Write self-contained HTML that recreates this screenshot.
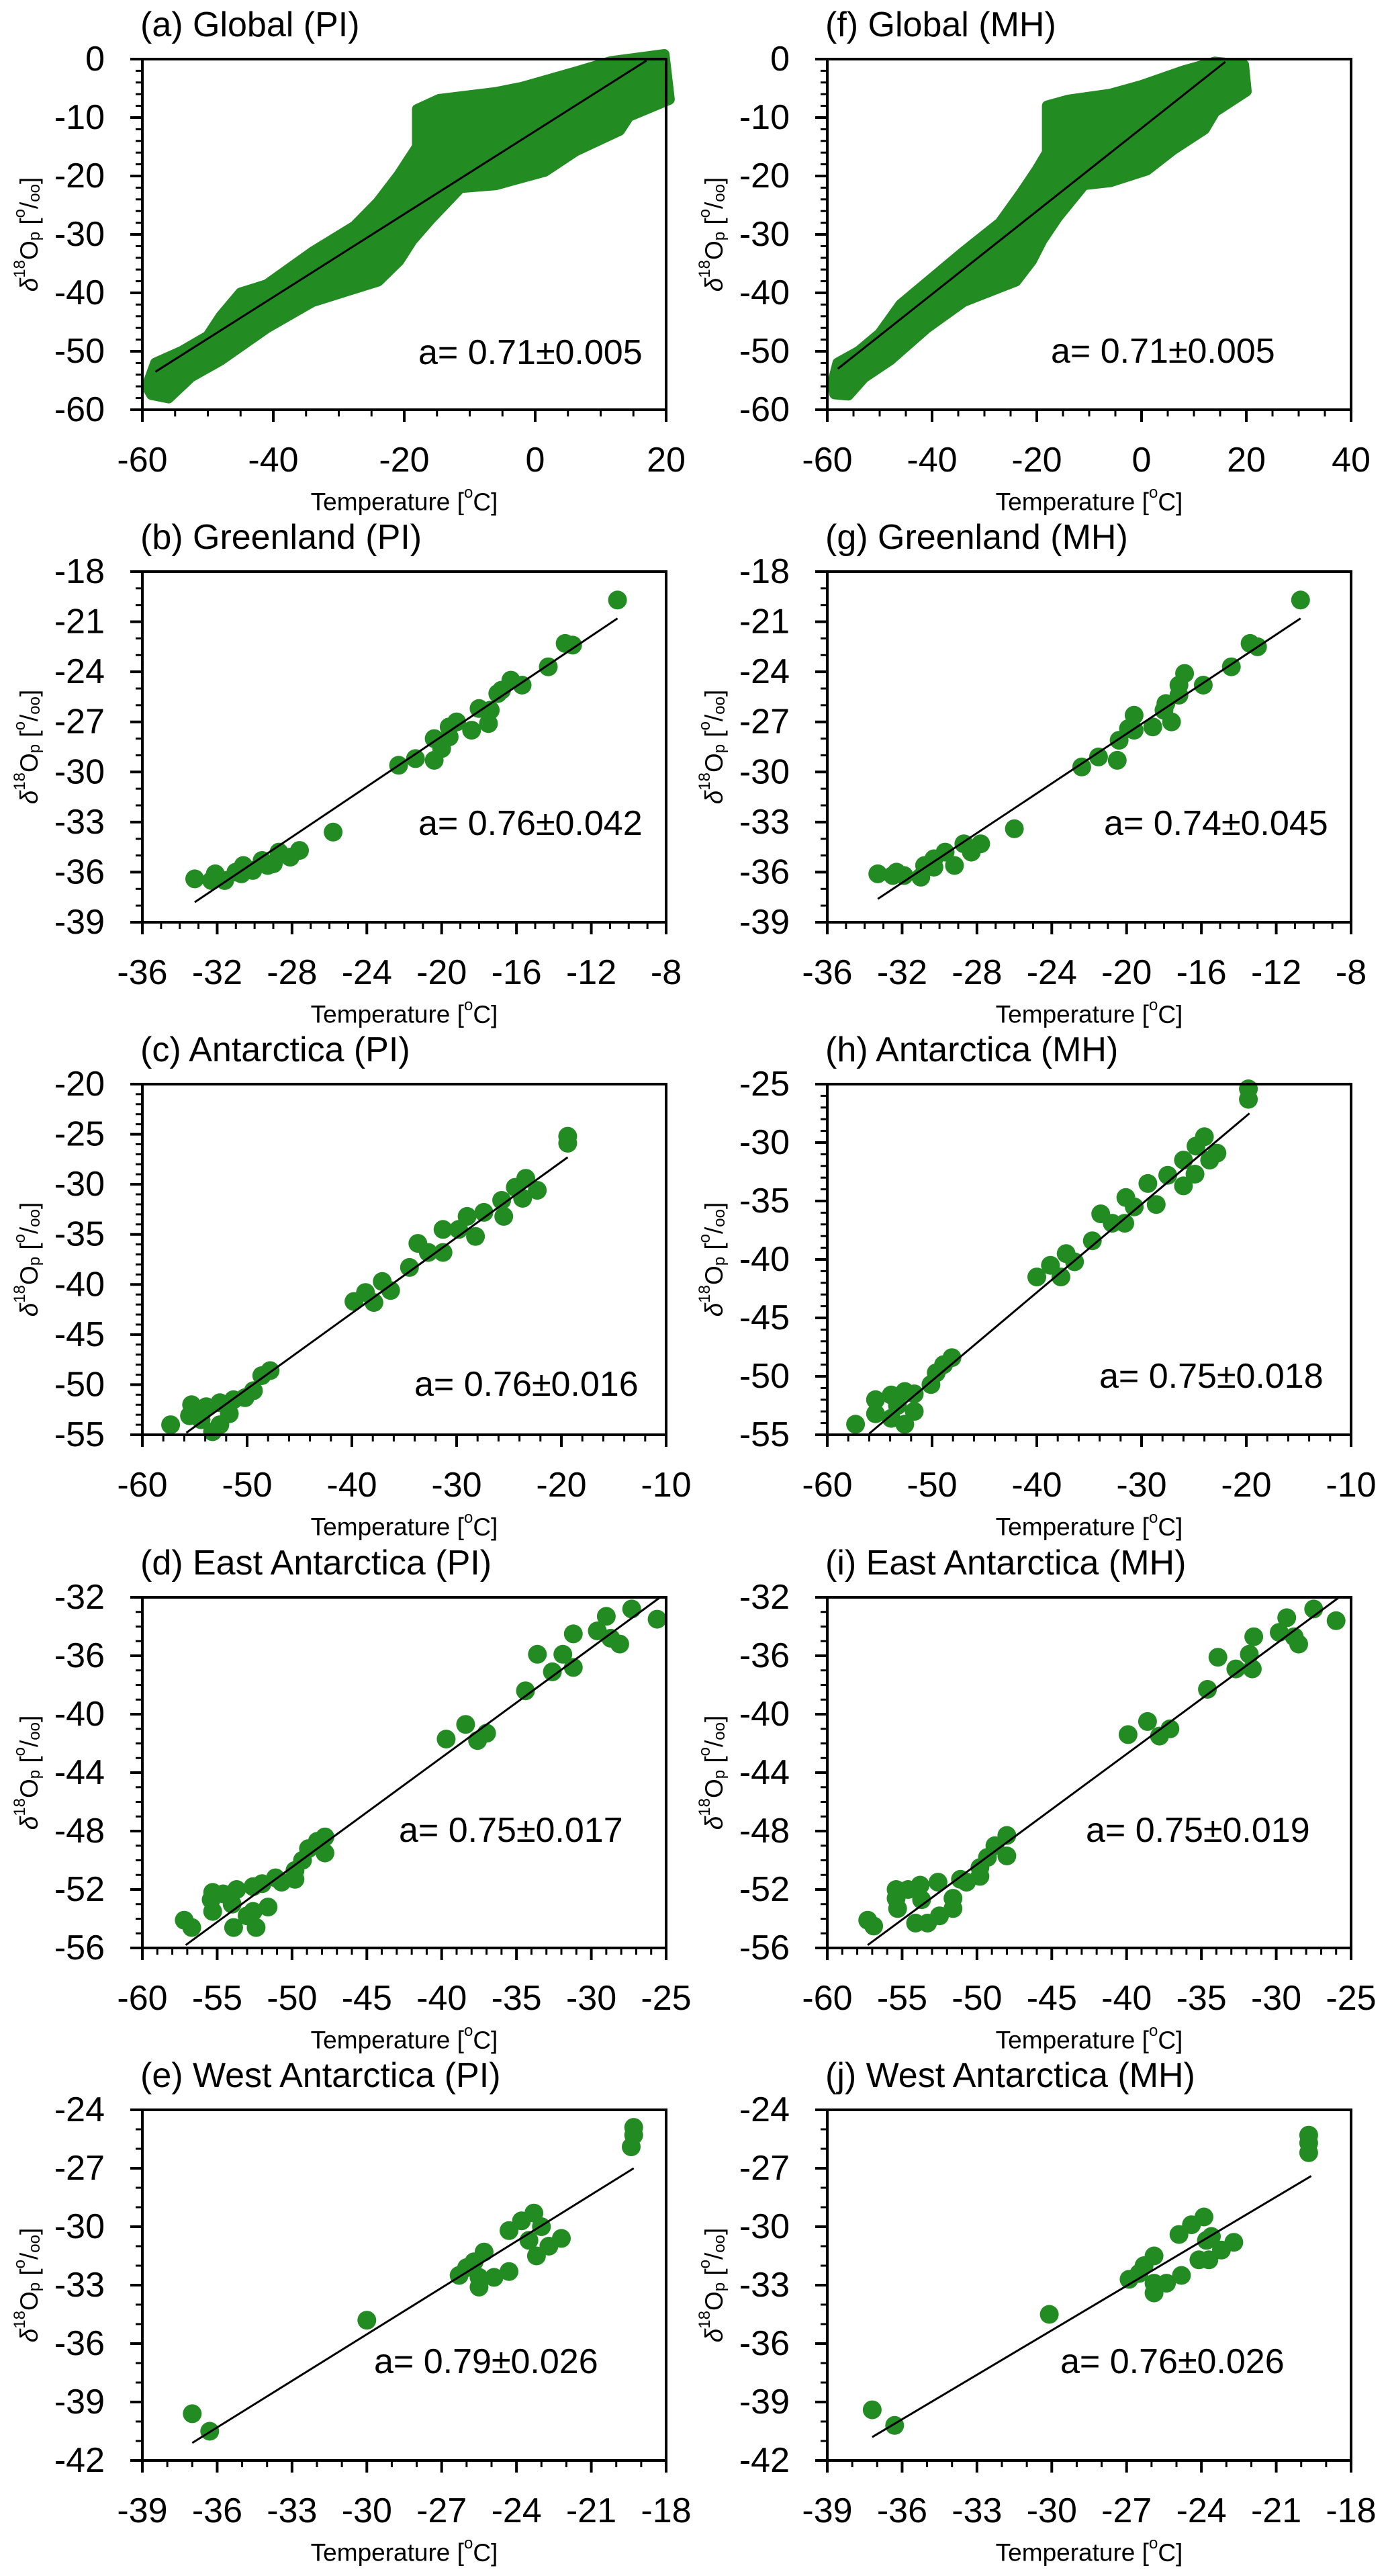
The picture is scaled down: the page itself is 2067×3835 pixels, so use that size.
<!DOCTYPE html>
<html><head><meta charset="utf-8"><style>
html,body{margin:0;padding:0;background:#fff;}
svg{display:block;font-family:"Liberation Sans",Arial,sans-serif;}
</style></head><body>
<svg id="fig" width="2067" height="3835" viewBox="0 0 2067 3835" xmlns="http://www.w3.org/2000/svg"></svg>
<script>
// ---------- data ----------
const globalPiUpperT=[-59.3,-58,-54,-50,-48,-45,-41,-34,-27.6,-24,-20.8,-18,-18,-14.7,-6,-2,6.2,11.6,19.7];
const globalPiUpperY=[-56,-52,-50,-47.4,-44,-40,-38.6,-33,-28.6,-24.5,-19.8,-15,-8.6,-6.9,-5.7,-4.8,-2.2,-0.4,0.8];
const globalPiLowerT=[20.5,14.3,12.9,6.2,1.5,-6,-11.4,-16,-18.8,-20.8,-24,-34,-41,-48,-52.6,-56,-58.6];
const globalPiLowerY=[-6.9,-9.8,-12.2,-15.7,-19.2,-21.5,-22,-27.4,-31,-34.5,-38,-41.5,-46,-51.5,-54.4,-58,-57.4];
const globalMhUpperT=[-59,-58,-54,-50,-46,-42,-34,-27,-23,-20,-18,-18,-14,-6,0,8,14,19.5];
const globalMhUpperY=[-55.5,-52,-50,-47,-42,-39,-33,-28,-23,-19,-16,-8,-7,-6,-4.5,-2,-0.5,-1];
const globalMhLowerT=[20,14,12,6,1,-6,-11,-16,-19,-21,-24,-34,-41,-48,-53,-56,-58.6];
const globalMhLowerY=[-5.5,-9,-12,-15.5,-19,-21,-21.5,-27,-31,-34.5,-38,-41.5,-46,-51.5,-54.5,-57.5,-57.3];

const greenlandPiT=[-10.6,-13.4,-13.0,-14.3,-16.3,-15.7,-17.0,-16.8,-18.0,-17.4,-17.5,-18.4,-19.2,-19.6,-19.6,-20.4,-20.0,-20.4,-21.4,-22.3,-25.8,-27.6,-28.1,-28.7,-29.0,-29.6,-29.3,-30.1,-30.7,-30.6,-31.0,-31.6,-32.1,-32.3,-33.2];
const greenlandPiY=[-19.7,-22.3,-22.4,-23.7,-24.5,-24.8,-25.3,-25.1,-26.2,-26.3,-27.1,-27.5,-27.0,-27.3,-27.9,-28.0,-28.6,-29.3,-29.2,-29.6,-33.6,-34.7,-35.1,-34.8,-35.5,-35.3,-35.6,-35.9,-36.1,-35.6,-36.0,-36.5,-36.1,-36.5,-36.4];
const greenlandMhT=[-10.7,-13.4,-13.0,-14.4,-16.9,-17.2,-15.9,-17.2,-17.9,-18.0,-17.6,-19.6,-19.6,-19.9,-18.6,-20.4,-21.5,-20.5,-22.4,-26.0,-27.8,-28.3,-28.7,-29.2,-29.7,-30.3,-30.3,-30.8,-31.0,-31.9,-32.3,-32.5,-33.3];
const greenlandMhY=[-19.7,-22.3,-22.5,-23.7,-24.1,-24.8,-24.8,-25.4,-25.9,-26.3,-27.0,-26.6,-27.5,-27.4,-27.3,-28.1,-29.1,-29.3,-29.7,-33.4,-34.3,-34.8,-34.3,-35.6,-34.8,-35.2,-35.7,-35.6,-36.3,-36.2,-36.0,-36.2,-36.1];
const antarcticaPiT=[-19.4,-19.4,-23.4,-24.4,-22.3,-23.7,-25.7,-25.5,-27.4,-29.0,-28.2,-29.8,-31.3,-31.3,-32.7,-33.7,-34.5,-37.1,-36.3,-37.9,-38.7,-39.8,-47.8,-48.6,-49.4,-50.2,-51.3,-51.7,-52.6,-53.9,-55.3,-55.5,-54.4,-52.6,-53.3,-57.3];
const antarcticaPiY=[-25.2,-25.9,-29.4,-30.3,-30.6,-31.4,-31.6,-33.2,-32.8,-33.2,-35.2,-34.5,-34.5,-36.8,-36.8,-35.9,-38.3,-39.7,-40.6,-41.8,-40.8,-41.7,-48.6,-49.1,-50.6,-51.3,-51.5,-52.9,-51.8,-52.2,-52.0,-53.1,-53.5,-54.0,-54.7,-54.0];
const antarcticaMhT=[-19.8,-19.8,-24.0,-24.8,-22.8,-23.5,-26.0,-24.9,-26.0,-27.5,-29.4,-28.6,-31.5,-30.7,-33.9,-32.8,-31.6,-34.7,-37.2,-38.7,-36.4,-37.7,-40.0,-48.1,-48.9,-49.6,-50.1,-51.7,-52.6,-53.9,-55.4,-55.4,-53.9,-52.6,-51.7,-53.3,-57.3];
const antarcticaMhY=[-25.4,-26.3,-29.5,-30.3,-30.9,-31.5,-31.5,-32.7,-33.7,-32.8,-33.5,-35.3,-34.7,-35.5,-36.1,-36.9,-36.9,-38.4,-39.5,-40.5,-40.2,-41.5,-41.5,-48.4,-49.0,-49.7,-50.7,-51.5,-51.3,-51.6,-52.0,-53.2,-53.6,-54.1,-53.0,-52.5,-54.1];
const eastPiT=[-25.6,-27.3,-29.0,-29.6,-28.7,-28.1,-31.2,-33.6,-31.9,-31.2,-32.6,-34.4,-38.4,-39.7,-37.6,-37.0,-47.8,-48.3,-47.8,-48.9,-49.3,-49.8,-49.8,-50.7,-51.1,-52.0,-52.6,-53.7,-54.6,-55.3,-55.4,-55.3,-54.0,-52.6,-51.6,-53.0,-53.9,-52.4,-57.2,-56.7];
const eastPiY=[-33.5,-32.8,-33.3,-34.3,-34.8,-35.2,-34.5,-35.9,-35.9,-36.8,-37.1,-38.4,-40.7,-41.7,-41.8,-41.3,-48.4,-48.7,-49.5,-49.2,-50.0,-50.7,-51.3,-51.5,-51.2,-51.6,-51.8,-52.0,-52.3,-52.2,-52.7,-53.5,-53.0,-53.5,-53.2,-53.8,-54.6,-54.6,-54.1,-54.6];
const eastMhT=[-26.0,-27.5,-29.3,-29.8,-28.8,-28.5,-31.5,-33.9,-31.8,-31.6,-32.7,-34.6,-38.6,-39.9,-37.8,-37.1,-48.0,-48.8,-48.0,-49.3,-49.8,-49.8,-50.7,-51.1,-52.6,-53.8,-54.6,-55.4,-55.4,-55.3,-53.7,-51.6,-51.6,-52.5,-53.3,-54.1,-57.3,-56.9];
const eastMhY=[-33.6,-32.8,-33.4,-34.4,-34.7,-35.2,-34.7,-36.1,-35.9,-36.9,-36.9,-38.3,-40.5,-41.4,-41.5,-41.0,-48.3,-49.0,-49.7,-49.8,-50.5,-51.1,-51.5,-51.3,-51.5,-51.7,-52.0,-52.0,-52.6,-53.3,-52.7,-52.6,-53.3,-53.8,-54.3,-54.3,-54.1,-54.5];
const westPiT=[-19.3,-19.3,-19.4,-23.3,-23.8,-24.3,-23.0,-23.5,-22.2,-22.7,-23.2,-25.3,-25.7,-26.0,-26.3,-25.5,-24.9,-24.3,-25.5,-30.0,-37.0,-36.3];
const westPiY=[-24.9,-25.3,-25.9,-29.3,-29.7,-30.2,-30.0,-30.7,-30.6,-31.0,-31.5,-31.3,-31.8,-32.1,-32.5,-32.6,-32.6,-32.3,-33.1,-34.8,-39.6,-40.5];
const westMhT=[-19.7,-19.7,-19.7,-23.9,-24.4,-24.9,-23.6,-23.8,-22.7,-23.2,-23.7,-24.1,-25.9,-26.3,-26.5,-26.9,-25.9,-25.4,-24.8,-25.9,-30.1,-37.2,-36.3];
const westMhY=[-25.3,-25.7,-26.2,-29.5,-29.9,-30.4,-30.5,-30.7,-30.8,-31.2,-31.7,-31.7,-31.5,-32.0,-32.4,-32.7,-32.9,-32.9,-32.5,-33.4,-34.5,-39.4,-40.2];

// regression line endpoints [T0, Y0, T1, Y1]
const fitGlobalPi=[-58,-53.5,17,-0.25];
const fitGlobalMh=[-58,-53,16,-0.46];
const fitGreenlandPi=[-33.2,-37.8,-10.6,-20.8];
const fitGreenlandMh=[-33.3,-37.6,-10.7,-20.8];
const fitAntarcticaPi=[-55.8,-54.8,-19.4,-27.3];
const fitAntarcticaMh=[-56.0,-54.9,-19.7,-27.5];
const fitEastPi=[-57.1,-55.8,-25.4,-32.0];
const fitEastMh=[-57.3,-55.8,-25.8,-32.0];
const fitWestPi=[-37.0,-41.1,-19.3,-27.0];
const fitWestMh=[-37.2,-40.8,-19.6,-27.4];

const slopeLabels=["a= 0.71±0.005","a= 0.76±0.042","a= 0.76±0.016","a= 0.75±0.017","a= 0.79±0.026",
                   "a= 0.71±0.005","a= 0.74±0.045","a= 0.75±0.018","a= 0.75±0.019","a= 0.76±0.026"];
const titles=["(a) Global (PI)","(b) Greenland (PI)","(c) Antarctica (PI)","(d) East Antarctica (PI)","(e) West Antarctica (PI)",
              "(f) Global (MH)","(g) Greenland (MH)","(h) Antarctica (MH)","(i) East Antarctica (MH)","(j) West Antarctica (MH)"];
const xTicksGlobalPi=[-60,-40,-20,0,20];
const xTicksGlobalMh=[-60,-40,-20,0,20,40];
const yTicksGlobal=[-60,-50,-40,-30,-20,-10,0];
const xTicksGreenland=[-36,-32,-28,-24,-20,-16,-12,-8];
const yTicksGreenland=[-39,-36,-33,-30,-27,-24,-21,-18];
const xTicksAntarctica=[-60,-50,-40,-30,-20,-10];
const yTicksAntarcticaPi=[-55,-50,-45,-40,-35,-30,-25,-20];
const yTicksAntarcticaMh=[-55,-50,-45,-40,-35,-30,-25];
const xTicksEast=[-60,-55,-50,-45,-40,-35,-30,-25];
const yTicksEast=[-56,-52,-48,-44,-40,-36,-32];
const xTicksWest=[-39,-36,-33,-30,-27,-24,-21,-18];
const yTicksWest=[-42,-39,-36,-33,-30,-27,-24];

// ---------- layout ----------
const NS="http://www.w3.org/2000/svg";
const svg=document.getElementById('fig');
const W=780,H=522,GREEN="#228b22";
const colLeft=[212,1232];
const rowTop=[88,851,1614,2378,3141];
const annPos=[[623,525],[623,1226],[617,2061],[594,2725],[557,3516],[1565,523],[1644,1226],[1637,2049],[1617,2725],[1579,3516]];

const panels=[
 {name:'global-pi',col:0,row:0,xt:xTicksGlobalPi,xm:5,yt:yTicksGlobal,ym:2,blob:[globalPiUpperT,globalPiUpperY,globalPiLowerT,globalPiLowerY],fit:fitGlobalPi},
 {name:'greenland-pi',col:0,row:1,xt:xTicksGreenland,xm:1,yt:yTicksGreenland,ym:1,pts:[greenlandPiT,greenlandPiY],fit:fitGreenlandPi},
 {name:'antarctica-pi',col:0,row:2,xt:xTicksAntarctica,xm:2,yt:yTicksAntarcticaPi,ym:1,pts:[antarcticaPiT,antarcticaPiY],fit:fitAntarcticaPi},
 {name:'east-antarctica-pi',col:0,row:3,xt:xTicksEast,xm:1,yt:yTicksEast,ym:1,pts:[eastPiT,eastPiY],fit:fitEastPi},
 {name:'west-antarctica-pi',col:0,row:4,xt:xTicksWest,xm:1,yt:yTicksWest,ym:1,pts:[westPiT,westPiY],fit:fitWestPi},
 {name:'global-mh',col:1,row:0,xt:xTicksGlobalMh,xm:5,yt:yTicksGlobal,ym:2,blob:[globalMhUpperT,globalMhUpperY,globalMhLowerT,globalMhLowerY],fit:fitGlobalMh},
 {name:'greenland-mh',col:1,row:1,xt:xTicksGreenland,xm:1,yt:yTicksGreenland,ym:1,pts:[greenlandMhT,greenlandMhY],fit:fitGreenlandMh},
 {name:'antarctica-mh',col:1,row:2,xt:xTicksAntarctica,xm:2,yt:yTicksAntarcticaMh,ym:1,pts:[antarcticaMhT,antarcticaMhY],fit:fitAntarcticaMh},
 {name:'east-antarctica-mh',col:1,row:3,xt:xTicksEast,xm:1,yt:yTicksEast,ym:1,pts:[eastMhT,eastMhY],fit:fitEastMh},
 {name:'west-antarctica-mh',col:1,row:4,xt:xTicksWest,xm:1,yt:yTicksWest,ym:1,pts:[westMhT,westMhY],fit:fitWestMh}
];

function el(tag,attrs,parent){const e=document.createElementNS(NS,tag);for(const k in attrs)e.setAttribute(k,attrs[k]);(parent||svg).appendChild(e);return e;}

panels.forEach((p,i)=>{
  const L=colLeft[p.col],T=rowTop[p.row];
  const x0=p.xt[0],x1=p.xt[p.xt.length-1],y0=p.yt[0],y1=p.yt[p.yt.length-1];
  const sx=v=>L+(v-x0)/(x1-x0)*W;
  const sy=v=>T+(y1-v)/(y1-y0)*H;
  const g=el('g',{});
  
  

  const ttl=el('text',{x:L-3,y:T-51,'font-size':52,'dominant-baseline':'central'},g);
  ttl.textContent=titles[i];
  
  

  if(p.blob){
    const [ut,uy,lt,ly]=p.blob;
    let d='';
    ut.forEach((t,k)=>{d+=(k?'L':'M')+sx(t).toFixed(1)+' '+sy(uy[k]).toFixed(1);});
    lt.forEach((t,k)=>{d+='L'+sx(t).toFixed(1)+' '+sy(ly[k]).toFixed(1);});
    d+='Z';
    const b=el('path',{d:d,fill:GREEN,stroke:GREEN,'stroke-width':16,'stroke-linejoin':'round','stroke-linecap':'round'},g);
    
    
  }
  if(p.pts){
    const [xs,ys]=p.pts;
    xs.forEach((t,k)=>{
      const c=el('circle',{cx:sx(t).toFixed(1),cy:sy(ys[k]).toFixed(1),r:14,fill:GREEN},g);
      
      
    });
  }
  const f=p.fit;
  const ln=el('line',{x1:sx(f[0]),y1:sy(f[1]),x2:sx(f[2]),y2:sy(f[3]),stroke:'#000','stroke-width':3},g);
  
  

  const fr=el('rect',{x:L,y:T,width:W,height:H,fill:'none',stroke:'#000','stroke-width':4},g);
  
  

  for(let v=x0;v<=x1+1e-9;v+=p.xm){
    const isMaj=p.xt.some(m=>Math.abs(m-v)<1e-9);
    el('line',{x1:sx(v),y1:T+H,x2:sx(v),y2:T+H+(isMaj?18:10),stroke:'#000','stroke-width':isMaj?4:3},g);
  }
  for(let v=y0;v<=y1+1e-9;v+=p.ym){
    const isMaj=p.yt.some(m=>Math.abs(m-v)<1e-9);
    el('line',{x1:L,y1:sy(v),x2:L-(isMaj?18:10),y2:sy(v),stroke:'#000','stroke-width':isMaj?4:3},g);
  }
  p.xt.forEach(v=>{
    const t=el('text',{x:sx(v),y:T+H+75,'font-size':52,'text-anchor':'middle','dominant-baseline':'central'},g);
    t.textContent=String(v);
    
    
  });
  p.yt.forEach(v=>{
    const t=el('text',{x:L-56,y:sy(v),'font-size':52,'text-anchor':'end','dominant-baseline':'central'},g);
    t.textContent=String(v);
    
    
  });
  const xt=el('text',{x:L+W/2,y:T+H+137,'font-size':37,'text-anchor':'middle','dominant-baseline':'central'},g);
  xt.innerHTML='Temperature [<tspan font-size="24" dy="-14">o</tspan><tspan dy="14">C]</tspan>';
  
  

  const cy=T+H/2, cx=L-169;
  const yt=el('text',{x:cx,y:cy,'font-size':37,'text-anchor':'middle','dominant-baseline':'central',transform:'rotate(-90 '+cx+' '+cy+')'},g);
  yt.innerHTML='<tspan font-style="italic">δ</tspan><tspan font-size="24" dy="-14">18</tspan><tspan dy="14">O</tspan><tspan font-size="24" dy="8">p</tspan><tspan dy="-8"> [</tspan><tspan font-size="24" dy="-14">o</tspan><tspan dy="14">/</tspan><tspan font-size="24" dy="8">oo</tspan><tspan dy="-8">]</tspan>';
  
  

  const an=el('text',{x:annPos[i][0],y:annPos[i][1],'font-size':52,'dominant-baseline':'central'},g);
  an.textContent=slopeLabels[i];
  
  
});
</script>
</body></html>
